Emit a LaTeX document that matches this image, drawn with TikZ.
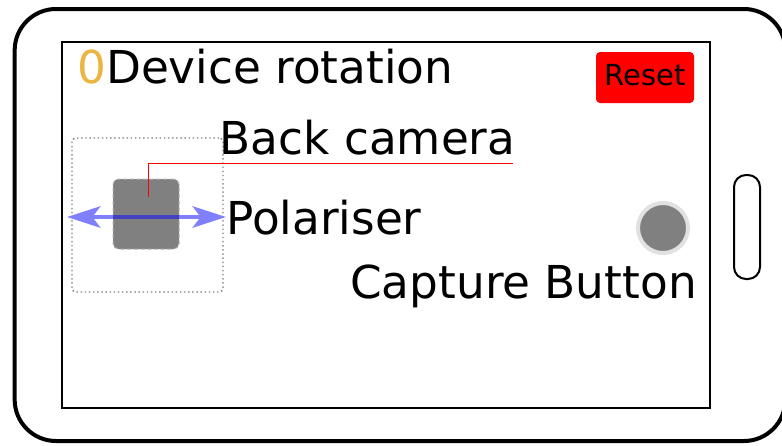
\documentclass[tikz,border=0pt]{standalone}
\usepackage{fontspec}
\setmainfont{DejaVu Sans}
\usetikzlibrary{arrows.meta}
\definecolor{zeroc}{RGB}{236,180,64}
\definecolor{polblue}{RGB}{128,128,255}
\definecolor{poldark}{RGB}{64,64,192}
\definecolor{ringc}{RGB}{225,225,225}
\begin{document}
\begin{tikzpicture}[x=0.75pt,y=-0.75pt,
  lbl/.style={font=\fontsize{34}{41}\selectfont, inner sep=0pt, anchor=base west},
  box/.style={inner sep=0pt, outer sep=0pt},
  polline/.style={line width=3.5pt}]
\useasboundingbox (0,0) rectangle (782,446);
% phone body
\node[box, draw, line width=3pt, rounded corners=31pt, minimum width=578pt, minimum height=324pt] (phone) at (400,225) {};
% screen
\node[box, draw, line width=1.1pt, minimum width=486pt, minimum height=274.5pt] (screen) at (386,225) {};
% side button
\node[box, draw, line width=1.5pt, rounded corners=9pt, minimum width=19.5pt, minimum height=78pt] (side) at (747,227) {};
% reset
\node[box, fill=red, rounded corners=3pt, minimum width=73.5pt, minimum height=38.25pt] (reset) at (645,77.5) {};
\node[font=\fontsize{21.75}{26}\selectfont, inner sep=0pt, anchor=base] (resettxt) at (645,85) {Reset};
% camera area
\node[box, draw=gray, dotted, line width=1.1pt, rounded corners=3pt, minimum width=113.25pt, minimum height=115.5pt] (camarea) at (147.5,215) {};
\node[box, fill=gray, draw=gray!60, densely dashed, line width=0.75pt, rounded corners=4pt, minimum width=49.5pt, minimum height=52.5pt] (lens) at (146,214) {};
% polariser arrow
\coordinate (pl) at (67,217);
\coordinate (pr) at (226,217);
\draw[polline, polblue, {Stealth[length=25pt,width=16pt,inset=6pt]}-{Stealth[length=25pt,width=16pt,inset=6pt]}] (pl) -- (pr);
\draw[polline, poldark] (lens.west |- pl) -- (lens.east |- pl);
% back camera pointer
\coordinate (rs) at (148,197);
\coordinate (re) at (513,163);
\draw[red, line width=0.75pt] (rs) |- (re);
% capture button
\node[box, circle, fill=gray, draw=ringc, line width=3pt, minimum size=37.5pt] (capture) at (663,228) {};
% labels
\node[lbl] (rot) at (77,83) {\textcolor{zeroc}{0}Device rotation};
\node[lbl] (back) at (219.5,154) {Back camera};
\node[lbl] (pol) at (226,234) {Polariser};
\node[lbl] (captxt) at (350,298) {Capture Button};
\end{tikzpicture}
\end{document}
